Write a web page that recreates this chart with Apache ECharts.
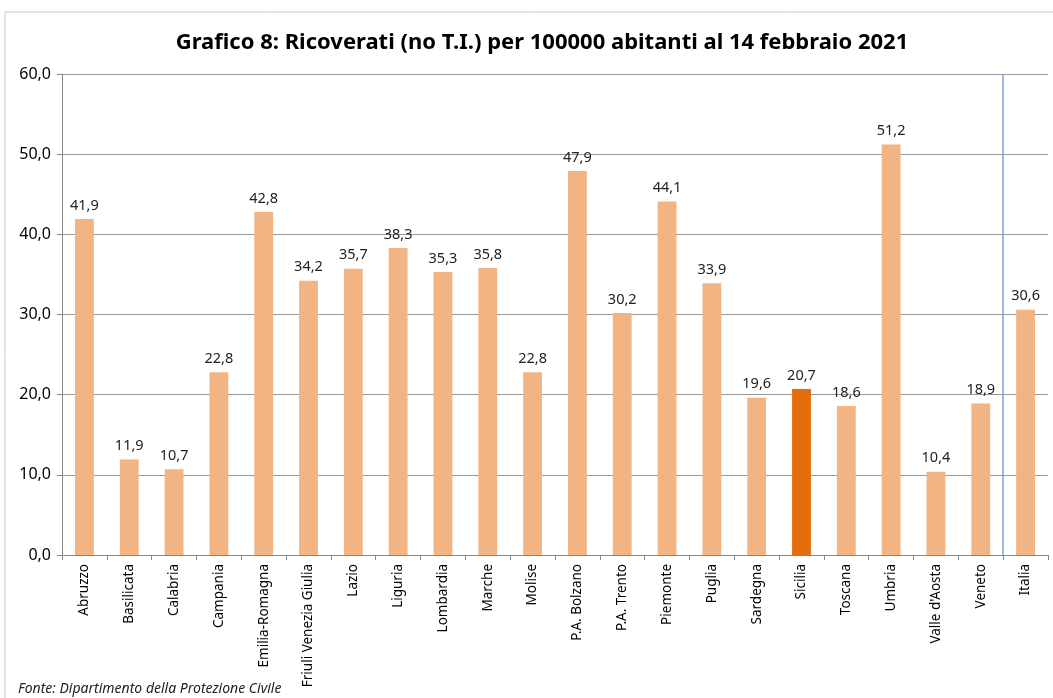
<!DOCTYPE html>
<html><head><meta charset="utf-8">
<script src="https://cdn.jsdelivr.net/npm/echarts@6/dist/echarts.min.js"></script>
<style>html,body{margin:0;padding:0;background:#fff}#c{width:1053px;height:698px}</style>
</head><body><div id="c"></div>
<script>
const categories = ["Abruzzo","Basilicata","Calabria","Campania","Emilia-Romagna","Friuli Venezia Giulia","Lazio","Liguria","Lombardia","Marche","Molise","P.A. Bolzano","P.A. Trento","Piemonte","Puglia","Sardegna","Sicilia","Toscana","Umbria","Valle d'Aosta","Veneto","Italia"];
const values = [41.9,11.9,10.7,22.8,42.8,34.2,35.7,38.3,35.3,35.8,22.8,47.9,30.2,44.1,33.9,19.6,20.7,18.6,51.2,10.4,18.9,30.6];
const highlight = "Sicilia";
const separatorAfter = 21; // boundary index between Veneto and Italia
const yTicks = {min:0, max:60, interval:10};

const fmt = v => v.toFixed(1).replace('.', ',');
const chart = echarts.init(document.getElementById('c'));
const font = 'Noto Sans';
chart.setOption({
  animation:false,
  backgroundColor:'#fff',
  textStyle:{fontFamily:font},
  title:{text:'Grafico 8: Ricoverati (no T.I.) per 100000 abitanti al 14 febbraio 2021',left:537,textAlign:'center',top:27,
    textStyle:{fontFamily:font,fontSize:22,fontWeight:'bold',color:'#000'}},
  graphic:[
    {type:'rect',shape:{x:5,y:12,width:1060,height:700},style:{fill:'none',stroke:'#c8c8c8',lineWidth:1},silent:true,z:-1},
    {type:'text',left:18,top:682,style:{text:'Fonte: Dipartimento della Protezione Civile',font:'italic 14px "Noto Sans"',fill:'#222'}}
  ],
  grid:{left:62,right:5,top:74,bottom:143},
  xAxis:[{type:'category',data:categories,
    axisLine:{lineStyle:{color:'#888'}},
    axisTick:{show:true,length:5,lineStyle:{color:'#888'}},
    axisLabel:{rotate:90,interval:0,fontSize:13.5,color:'#000',margin:9},
  },{type:'value',min:0,max:categories.length,show:false,position:'top'}],
  yAxis:{type:'value',min:yTicks.min,max:yTicks.max,interval:yTicks.interval,
    axisLine:{show:true,lineStyle:{color:'#888'}},
    axisTick:{show:true,length:5,lineStyle:{color:'#888'}},
    axisLabel:{formatter:v=>fmt(v),fontSize:16,color:'#000',margin:11},
    splitLine:{lineStyle:{color:'#999',width:1}}},
  series:[{type:'bar',barWidth:'42%',
    data:values.map((v,i)=>({value:v,itemStyle:{color:categories[i]===highlight?'#E46C0A':'#F2B482'}})),
    label:{show:true,position:'top',distance:6,formatter:p=>fmt(p.value),fontSize:14.5,color:'#222'}},
   {type:'line',xAxisIndex:1,data:[],symbol:'none',
    markLine:{silent:true,symbol:'none',label:{show:false},lineStyle:{color:'#7EA3D6',width:1.5,type:'solid'},
      data:[{xAxis:separatorAfter}]}}]
});
</script></body></html>
